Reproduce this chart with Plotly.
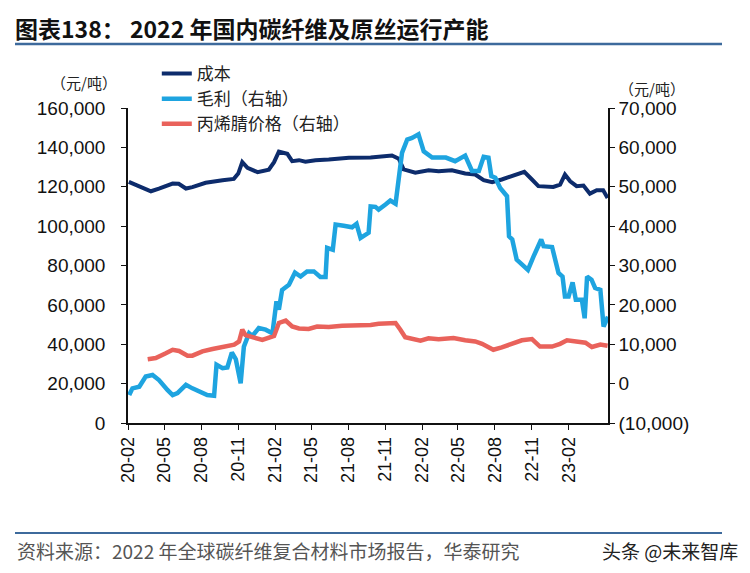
import plotly.graph_objects as go

# ---- data ----
cost_dates = ["2020-02-03","2020-02-20","2020-03-29","2020-04-18","2020-05-22","2020-06-06","2020-06-24",
              "2020-07-10","2020-08-12","2020-09-23","2020-10-21","2020-11-01","2020-11-11","2020-11-24",
              "2020-12-19","2021-01-16","2021-01-29","2021-02-10","2021-03-03","2021-03-15","2021-04-01",
              "2021-04-17","2021-05-12","2021-06-14","2021-08-03","2021-09-26","2021-10-08","2021-11-02",
              "2021-11-18","2021-12-05","2021-12-17","2022-01-15","2022-02-17","2022-03-14","2022-04-16",
              "2022-05-19","2022-06-13","2022-07-04","2022-07-25","2022-08-18","2022-09-20","2022-10-13",
              "2022-11-01","2022-11-17","2022-12-24","2023-01-10","2023-01-22","2023-02-04","2023-02-20",
              "2023-03-09","2023-03-25","2023-04-11","2023-04-27","2023-05-08"]
cost_vals = [122500,121100,117700,119000,121600,121500,119100,
             119800,122000,123300,124000,126700,132500,129600,
             127400,128700,132500,137800,136700,133000,133500,
             132700,133500,133800,134700,134900,135200,135500,
             135900,134200,128800,127100,128400,127900,128400,
             126700,126200,123300,122300,123700,125700,127600,
             123700,120300,119900,121100,126200,122800,120300,
             120600,116500,118200,118200,114300]

profit_dates = ["2020-02-04","2020-02-12","2020-02-29","2020-03-16","2020-04-02","2020-04-18","2020-05-09",
                "2020-05-22","2020-06-03","2020-06-24","2020-07-10","2020-07-27","2020-08-16","2020-09-02",
                "2020-09-08","2020-09-23","2020-10-05","2020-10-16","2020-10-26","2020-11-07","2020-11-15",
                "2020-11-28","2020-12-06","2020-12-22","2021-01-08","2021-01-25","2021-02-04","2021-02-10",
                "2021-02-18","2021-03-07","2021-03-22","2021-04-05","2021-04-21","2021-05-08","2021-05-24",
                "2021-06-06","2021-06-10","2021-06-24","2021-07-01","2021-07-21","2021-08-11","2021-08-22",
                "2021-09-01","2021-09-21","2021-09-26","2021-10-08","2021-10-16","2021-11-02","2021-11-14",
                "2021-11-27","2021-12-05","2021-12-13","2021-12-26","2022-01-07","2022-01-23","2022-02-05",
                "2022-02-26","2022-04-01","2022-04-24","2022-05-19","2022-06-05","2022-06-22","2022-07-04",
                "2022-07-16","2022-07-23","2022-08-02","2022-08-14","2022-08-31","2022-09-05","2022-09-13",
                "2022-09-24","2022-10-07","2022-10-22","2022-11-05","2022-11-24","2022-11-30","2022-12-21",
                "2023-01-06","2023-01-16","2023-01-22","2023-01-31","2023-02-10","2023-02-18","2023-03-05",
                "2023-03-12","2023-03-18","2023-03-29","2023-04-07","2023-04-20","2023-04-28","2023-05-04",
                "2023-05-09"]
profit_vals = [-2900,-1200,-800,1800,2200,900,-1600,
               -2900,-2400,-300,-1200,-2000,-2900,-3100,
               4800,3900,4100,7900,6200,100,9400,
               12800,12100,14100,13700,12800,20900,18800,
               23800,25100,28200,27200,28500,28500,27100,
               27100,34500,34000,40400,40100,39700,40600,
               37000,38300,45000,44900,44200,45500,46500,
               45700,53500,58600,62000,62400,63300,59000,
               57400,57400,56500,57900,54000,54000,57600,
               57400,52700,52300,49700,47600,37400,36600,
               31500,30200,28900,32300,36600,34900,34700,
               28100,27200,22100,22100,25700,21300,21300,
               16600,27200,26400,24300,23800,14500,16200,
               17000]

acn_dates = ["2020-03-21","2020-04-10","2020-05-05","2020-05-22","2020-06-07","2020-06-28","2020-07-10",
             "2020-08-04","2020-08-29","2020-10-01","2020-10-22","2020-11-03","2020-11-11","2020-11-19",
             "2020-12-14","2020-12-31","2021-01-29","2021-02-10","2021-02-27","2021-03-15","2021-04-01",
             "2021-04-25","2021-05-16","2021-06-14","2021-07-17","2021-08-19","2021-09-26","2021-10-16",
             "2021-11-27","2021-12-09","2021-12-21","2022-01-28","2022-02-17","2022-03-14","2022-04-20",
             "2022-05-19","2022-06-13","2022-06-30","2022-07-20","2022-07-28","2022-08-18","2022-09-12",
             "2022-10-07","2022-11-01","2022-11-21","2022-12-21","2023-01-10","2023-01-27","2023-02-16",
             "2023-03-14","2023-03-30","2023-04-20","2023-05-08"]
acn_vals = [6200,6500,7700,8600,8300,7100,7100,
            8200,8800,9400,9900,10700,13700,12300,
            11600,11100,12100,15400,16000,14500,14000,
            13900,14500,14400,14700,14700,14900,15200,
            15400,13700,11800,10900,11500,11300,11600,
            11000,10700,10100,8800,8600,9200,10100,
            11000,11300,9400,9400,10100,11000,10700,
            10400,9300,9900,9600]

series_names = ["成本", "毛利（右轴）", "丙烯腈价格（右轴）"]

x_tickvals = ["2020-02-01","2020-05-01","2020-08-01","2020-11-01","2021-02-01","2021-05-01","2021-08-01",
              "2021-11-01","2022-02-01","2022-05-01","2022-08-01","2022-11-01","2023-02-01"]
x_ticktext = ["20-02","20-05","20-08","20-11","21-02","21-05","21-08","21-11","22-02","22-05","22-08","22-11","23-02"]

y_tickvals = [0,20000,40000,60000,80000,100000,120000,140000,160000]
y_ticktext = ["0","20,000","40,000","60,000","80,000","100,000","120,000","140,000","160,000"]
y2_tickvals = [-10000,0,10000,20000,30000,40000,50000,60000,70000]
y2_ticktext = ["(10,000)","0","10,000","20,000","30,000","40,000","50,000","60,000","70,000"]

# ---- figure ----
CJK = "Noto Sans CJK SC"
NUM = "Liberation Sans, Arial, sans-serif"

fig = go.Figure()
fig.add_trace(go.Scatter(x=cost_dates, y=cost_vals, name=series_names[0], mode="lines",
                         line=dict(color="#0d2c6c", width=4)))
fig.add_trace(go.Scatter(x=profit_dates, y=profit_vals, name=series_names[1], mode="lines", yaxis="y2",
                         line=dict(color="#1ea4e0", width=4.5)))
fig.add_trace(go.Scatter(x=acn_dates, y=acn_vals, name=series_names[2], mode="lines", yaxis="y2",
                         line=dict(color="#e9625b", width=4.5)))

fig.update_layout(
    width=750, height=573,
    margin=dict(l=128, r=142, t=108, b=150, pad=0),
    paper_bgcolor="white", plot_bgcolor="white",
    showlegend=True,
    legend=dict(x=0.06, y=1.165, xanchor="left", yanchor="top", bgcolor="rgba(0,0,0,0)",
                font=dict(family=CJK, size=17, color="#222"), tracegroupgap=0),
    title=dict(text="<b>图表138： 2022 年国内碳纤维及原丝运行产能</b>", xref="container", yref="container",
               x=15/750, xanchor="left", y=1-30/573, yanchor="middle",
               font=dict(family=CJK, size=23, color="#111")),
    xaxis=dict(type="date", range=["2020-02-01", "2023-05-09"], tickmode="array",
               tickvals=x_tickvals, ticktext=x_ticktext, tickangle=-90,
               showline=True, linecolor="#111", linewidth=1.5, ticks="outside", ticklen=5,
               tickcolor="#111", showgrid=False, zeroline=False,
               tickfont=dict(family=NUM, size=18, color="#111")),
    yaxis=dict(range=[0, 160000], tickmode="array", tickvals=y_tickvals, ticktext=y_ticktext,
               showline=True, linecolor="#111", linewidth=1.5, ticks="outside", ticklen=5,
               tickcolor="#111", showgrid=False, zeroline=False, ticklabelstandoff=12,
               tickfont=dict(family=NUM, size=19, color="#111")),
    yaxis2=dict(range=[-10000, 70000], overlaying="y", side="right", tickmode="array",
                tickvals=y2_tickvals, ticktext=y2_ticktext,
                showline=True, linecolor="#111", linewidth=1.5, ticks="outside", ticklen=5,
                tickcolor="#111", showgrid=False, zeroline=False,
                tickfont=dict(family=NUM, size=19, color="#111")),
)

shapes = [
    dict(type="line", xref="paper", yref="paper", x0=(15-128)/480, x1=(722-128)/480,
         y0=(423-44)/315, y1=(423-44)/315, line=dict(color="#3d6a9c", width=2.5)),
    dict(type="line", xref="paper", yref="paper", x0=(15-128)/480, x1=(722-128)/480,
         y0=(423-533)/315, y1=(423-533)/315, line=dict(color="#3d6a9c", width=2)),
]
fig.update_layout(shapes=shapes)

annotations = [
    dict(text="（元/吨）", xref="paper", yref="paper", x=(84-128)/480, y=(423-82)/315,
         xanchor="center", yanchor="middle", showarrow=False,
         font=dict(family=CJK, size=15, color="#222")),
    dict(text="（元/吨）", xref="paper", yref="paper", x=(652-128)/480, y=(423-88)/315,
         xanchor="center", yanchor="middle", showarrow=False,
         font=dict(family=CJK, size=15, color="#222")),
    dict(text="资料来源：2022 年全球碳纤维复合材料市场报告，华泰研究", xref="paper", yref="paper",
         x=(15-128)/480, y=(423-550)/315, xanchor="left", yanchor="middle", showarrow=False,
         font=dict(family=CJK, size=19, color="#555")),
    dict(text="头条 @未来智库", xref="paper", yref="paper",
         x=(740-128)/480, y=(423-550)/315, xanchor="right", yanchor="middle", showarrow=False,
         font=dict(family=CJK, size=19, color="#222")),
]
fig.update_layout(annotations=annotations)

fig.write_html("out.html", config={"displayModeBar": False},
               post_script="document.body.style.margin='0';")
